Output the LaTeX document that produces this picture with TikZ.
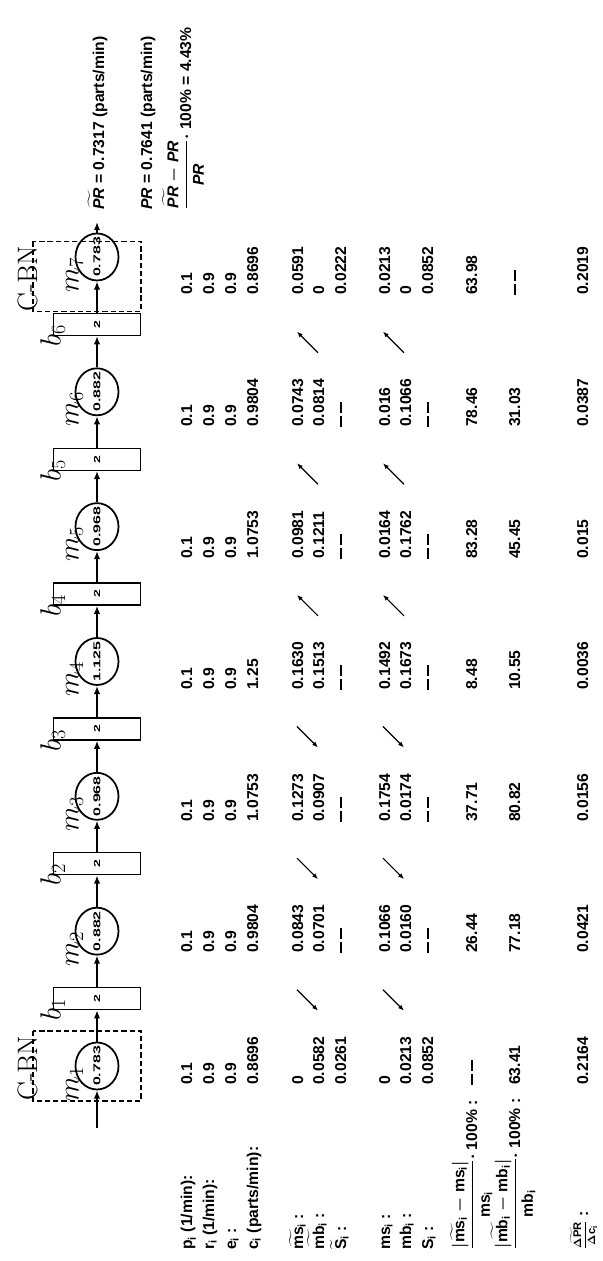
\documentclass[tikz,border=0pt]{standalone}
\usepackage{amsmath}
\usepackage{fontspec}
\newfontfamily\tabfont{Liberation Sans}
\newfontfamily\wideFont{Liberation Sans}[FakeStretch=1.6]
\usetikzlibrary{positioning,arrows.meta,shapes.geometric}
\newcommand{\nodata}{\rule[0.27em]{0.7em}{0.13em}\kern0.2em\rule[0.27em]{0.7em}{0.13em}}
\newcommand{\rate}[1]{\makebox[0pt]{#1}}

\begin{document}
\begin{tikzpicture}
    [x=0.03cm, y=0.03cm, node distance=0.94cm,
    flow/.style={-{Latex[length=7pt,width=5.5pt]}, line width=1.8pt},
    trend/.style={-{Latex[length=5pt,width=4pt]}, line width=1pt},
    mach/.style={draw, ellipse, line width=1.5pt, minimum width=1.41cm, minimum height=1.29cm, inner sep=0pt,
        font=\wideFont\bfseries\fontsize{8.5}{9}\selectfont, label distance=1pt},
    buf/.style={draw, rectangle, line width=1.2pt, minimum width=0.66cm, minimum height=2.61cm, inner sep=0pt,
        font=\wideFont\bfseries\fontsize{7.5}{9}\selectfont, label distance=1pt},
    cbn/.style={draw, line width=1.1pt, dash pattern=on 4.5pt off 2.5pt, minimum width=2.1cm, minimum height=3.24cm},
    tag/.style={inner sep=0pt, font=\rmfamily\mdseries\fontsize{24}{28}\selectfont},
    val/.style={anchor=base west, inner sep=0pt, font=\tabfont\bfseries\boldmath\fontsize{13.4}{16}\selectfont}]
    \useasboundingbox (0,0) rectangle (602,1261);
    \begin{scope}[shift={(602,0)}, rotate=90, transform shape]
    \node[cbn] (cbn1) at (195,515) {};
    \node[cbn] (cbn7) at (984.6,515) {};
    \node[tag, anchor=base west] (cbnl1) at (160,565) {C-BN};
    \node[tag, anchor=base west] (cbnl7) at (949.6,565) {C-BN};

    \node[mach, label={[tag,name=lm1]above:$m_1$}] (m1) at (195,505) {\rate{0.783}};
    \node[buf, right=of m1, label={[tag,name=lb1]above:$b_1$}] (b1) {2};
    \node[mach, right=of b1, label={[tag,name=lm2]above:$m_2$}] (m2) {\rate{0.882}};
    \node[buf, right=of m2, label={[tag,name=lb2]above:$b_2$}] (b2) {2};
    \node[mach, right=of b2, label={[tag,name=lm3]above:$m_3$}] (m3) {\rate{0.968}};
    \node[buf, right=of m3, label={[tag,name=lb3]above:$b_3$}] (b3) {2};
    \node[mach, right=of b3, label={[tag,name=lm4]above:$m_4$}] (m4) {\rate{1.125}};
    \node[buf, right=of m4, label={[tag,name=lb4]above:$b_4$}] (b4) {2};
    \node[mach, right=of b4, label={[tag,name=lm5]above:$m_5$}] (m5) {\rate{0.968}};
    \node[buf, right=of m5, label={[tag,name=lb5]above:$b_5$}] (b5) {2};
    \node[mach, right=of b5, label={[tag,name=lm6]above:$m_6$}] (m6) {\rate{0.882}};
    \node[buf, right=of m6, label={[tag,name=lb6]above:$b_6$}] (b6) {2};
    \node[mach, right=of b6, label={[tag,name=lm7]above:$m_7$}] (m7) {\rate{0.783}};
    \coordinate (in) at (133,505);
    \coordinate (out) at (1039,505);
    \draw[flow] (in) -- (m1);
    \draw[flow] (m1) -- (b1);
    \draw[flow] (b1) -- (m2);
    \draw[flow] (m2) -- (b2);
    \draw[flow] (b2) -- (m3);
    \draw[flow] (m3) -- (b3);
    \draw[flow] (b3) -- (m4);
    \draw[flow] (m4) -- (b4);
    \draw[flow] (b4) -- (m5);
    \draw[flow] (m5) -- (b5);
    \draw[flow] (b5) -- (m6);
    \draw[flow] (m6) -- (b6);
    \draw[flow] (b6) -- (m7);
    \draw[flow] (m7) -- (out);

    \node[val] (prt) at (1051,498) {$\widetilde{\text{\itshape PR}}$ = 0.7317 (parts/min)};
    \node[val] (pr) at (1051,450) {{\itshape PR} = 0.7641 (parts/min)};
    \node[val] (gap) at (1051,411) {$\dfrac{\widetilde{\text{\itshape PR}}-\text{\itshape PR}}{\text{\itshape PR}}\cdot$ 100\% = 4.43\%};

    \node[val] (hp) at (11,410) {$\text{p}_{\text{i}}$ (1/min):};
    \node[val] (hr) at (11,388) {$\text{r}_{\text{i}}$ (1/min):};
    \node[val] (he) at (11,366) {$\text{e}_{\text{i}}$ :};
    \node[val] (hc) at (11,344) {$\text{c}_{\text{i}}$ (parts/min):};
    \node[val] (htms) at (11,299) {$\widetilde{\text{ms}}_{\text{i}}$ :};
    \node[val] (htmb) at (11,278) {$\widetilde{\text{mb}}_{\text{i}}$ :};
    \node[val] (htS) at (11,256) {$\widetilde{\text{S}}_{\text{i}}$ :};
    \node[val] (hms) at (11,212) {$\text{ms}_{\text{i}}$ :};
    \node[val] (hmb) at (11,191) {$\text{mb}_{\text{i}}$ :};
    \node[val] (hS) at (11,169) {$\text{S}_{\text{i}}$ :};
    \node[val] (hdms) at (11,125) {$\dfrac{|\widetilde{\text{ms}}_{\text{i}}-\text{ms}_{\text{i}}|}{\text{ms}_{\text{i}}}\cdot$ 100\% :};
    \node[val] (hdmb) at (11,82) {$\dfrac{|\widetilde{\text{mb}}_{\text{i}}-\text{mb}_{\text{i}}|}{\text{mb}_{\text{i}}}\cdot$ 100\% :};
    \node[val] (hdpr) at (11,14) {{\fontsize{9.5}{11}\selectfont$\dfrac{\widetilde{\Delta\text{PR}}}{\Delta\text{c}_{\text{i}}}$} :};

    \node[val] (p1) at (176,410) {0.1};    \node[val] (r1) at (176,388) {0.9};
    \node[val] (e1) at (176,366) {0.9};    \node[val] (c1) at (176,344) {0.8696};
    \node[val] (tms1) at (176,299) {0};    \node[val] (tmb1) at (176,278) {0.0582};
    \node[val] (tS1) at (176,256) {0.0261};
    \node[val] (ms1) at (176,212) {0};     \node[val] (mb1) at (176,191) {0.0213};
    \node[val] (S1) at (176,169) {0.0852};
    \node[val] (dms1) at (176,125) {\nodata};  \node[val] (dmb1) at (176,82) {63.41};
    \node[val] (dpr1) at (176,14) {0.2164};

    \node[val] (p2) at (308,410) {0.1};    \node[val] (r2) at (308,388) {0.9};
    \node[val] (e2) at (308,366) {0.9};    \node[val] (c2) at (308,344) {0.9804};
    \node[val] (tms2) at (308,299) {0.0843};  \node[val] (tmb2) at (308,278) {0.0701};
    \node[val] (tS2) at (308,256) {\nodata};
    \node[val] (ms2) at (308,212) {0.1066};   \node[val] (mb2) at (308,191) {0.0160};
    \node[val] (S2) at (308,169) {\nodata};
    \node[val] (dms2) at (308,125) {26.44};   \node[val] (dmb2) at (308,82) {77.18};
    \node[val] (dpr2) at (308,14) {0.0421};

    \node[val] (p3) at (439,410) {0.1};    \node[val] (r3) at (439,388) {0.9};
    \node[val] (e3) at (439,366) {0.9};    \node[val] (c3) at (439,344) {1.0753};
    \node[val] (tms3) at (439,299) {0.1273};  \node[val] (tmb3) at (439,278) {0.0907};
    \node[val] (tS3) at (439,256) {\nodata};
    \node[val] (ms3) at (439,212) {0.1754};   \node[val] (mb3) at (439,191) {0.0174};
    \node[val] (S3) at (439,169) {\nodata};
    \node[val] (dms3) at (439,125) {37.71};   \node[val] (dmb3) at (439,82) {80.82};
    \node[val] (dpr3) at (439,14) {0.0156};

    \node[val] (p4) at (571,410) {0.1};    \node[val] (r4) at (571,388) {0.9};
    \node[val] (e4) at (571,366) {0.9};    \node[val] (c4) at (571,344) {1.25};
    \node[val] (tms4) at (571,299) {0.1630};  \node[val] (tmb4) at (571,278) {0.1513};
    \node[val] (tS4) at (571,256) {\nodata};
    \node[val] (ms4) at (571,212) {0.1492};   \node[val] (mb4) at (571,191) {0.1673};
    \node[val] (S4) at (571,169) {\nodata};
    \node[val] (dms4) at (571,125) {8.48};    \node[val] (dmb4) at (571,82) {10.55};
    \node[val] (dpr4) at (571,14) {0.0036};

    \node[val] (p5) at (702,410) {0.1};    \node[val] (r5) at (702,388) {0.9};
    \node[val] (e5) at (702,366) {0.9};    \node[val] (c5) at (702,344) {1.0753};
    \node[val] (tms5) at (702,299) {0.0981};  \node[val] (tmb5) at (702,278) {0.1211};
    \node[val] (tS5) at (702,256) {\nodata};
    \node[val] (ms5) at (702,212) {0.0164};   \node[val] (mb5) at (702,191) {0.1762};
    \node[val] (S5) at (702,169) {\nodata};
    \node[val] (dms5) at (702,125) {83.28};   \node[val] (dmb5) at (702,82) {45.45};
    \node[val] (dpr5) at (702,14) {0.015};

    \node[val] (p6) at (834,410) {0.1};    \node[val] (r6) at (834,388) {0.9};
    \node[val] (e6) at (834,366) {0.9};    \node[val] (c6) at (834,344) {0.9804};
    \node[val] (tms6) at (834,299) {0.0743};  \node[val] (tmb6) at (834,278) {0.0814};
    \node[val] (tS6) at (834,256) {\nodata};
    \node[val] (ms6) at (834,212) {0.016};    \node[val] (mb6) at (834,191) {0.1066};
    \node[val] (S6) at (834,169) {\nodata};
    \node[val] (dms6) at (834,125) {78.46};   \node[val] (dmb6) at (834,82) {31.03};
    \node[val] (dpr6) at (834,14) {0.0387};

    \node[val] (p7) at (966,410) {0.1};    \node[val] (r7) at (966,388) {0.9};
    \node[val] (e7) at (966,366) {0.9};    \node[val] (c7) at (966,344) {0.8696};
    \node[val] (tms7) at (966,299) {0.0591};  \node[val] (tmb7) at (966,278) {0};
    \node[val] (tS7) at (966,256) {0.0222};
    \node[val] (ms7) at (966,212) {0.0213};   \node[val] (mb7) at (966,191) {0};
    \node[val] (S7) at (966,169) {0.0852};
    \node[val] (dms7) at (966,125) {63.98};   \node[val] (dmb7) at (966,82) {\nodata};
    \node[val] (dpr7) at (966,14) {0.2019};

    \draw[trend] (271.3,305) -- (250.3,284);
    \draw[trend] (271.3,219) -- (250.3,198);
    \draw[trend] (402.9,305) -- (381.9,284);
    \draw[trend] (402.9,219) -- (381.9,198);
    \draw[trend] (534.5,305) -- (513.5,284);
    \draw[trend] (534.5,219) -- (513.5,198);
    \draw[trend] (645.1,284) -- (666.1,305);
    \draw[trend] (645.1,198) -- (666.1,219);
    \draw[trend] (776.7,284) -- (797.7,305);
    \draw[trend] (776.7,198) -- (797.7,219);
    \draw[trend] (908.3,284) -- (929.3,305);
    \draw[trend] (908.3,198) -- (929.3,219);
    \end{scope}
\end{tikzpicture}
\end{document}
